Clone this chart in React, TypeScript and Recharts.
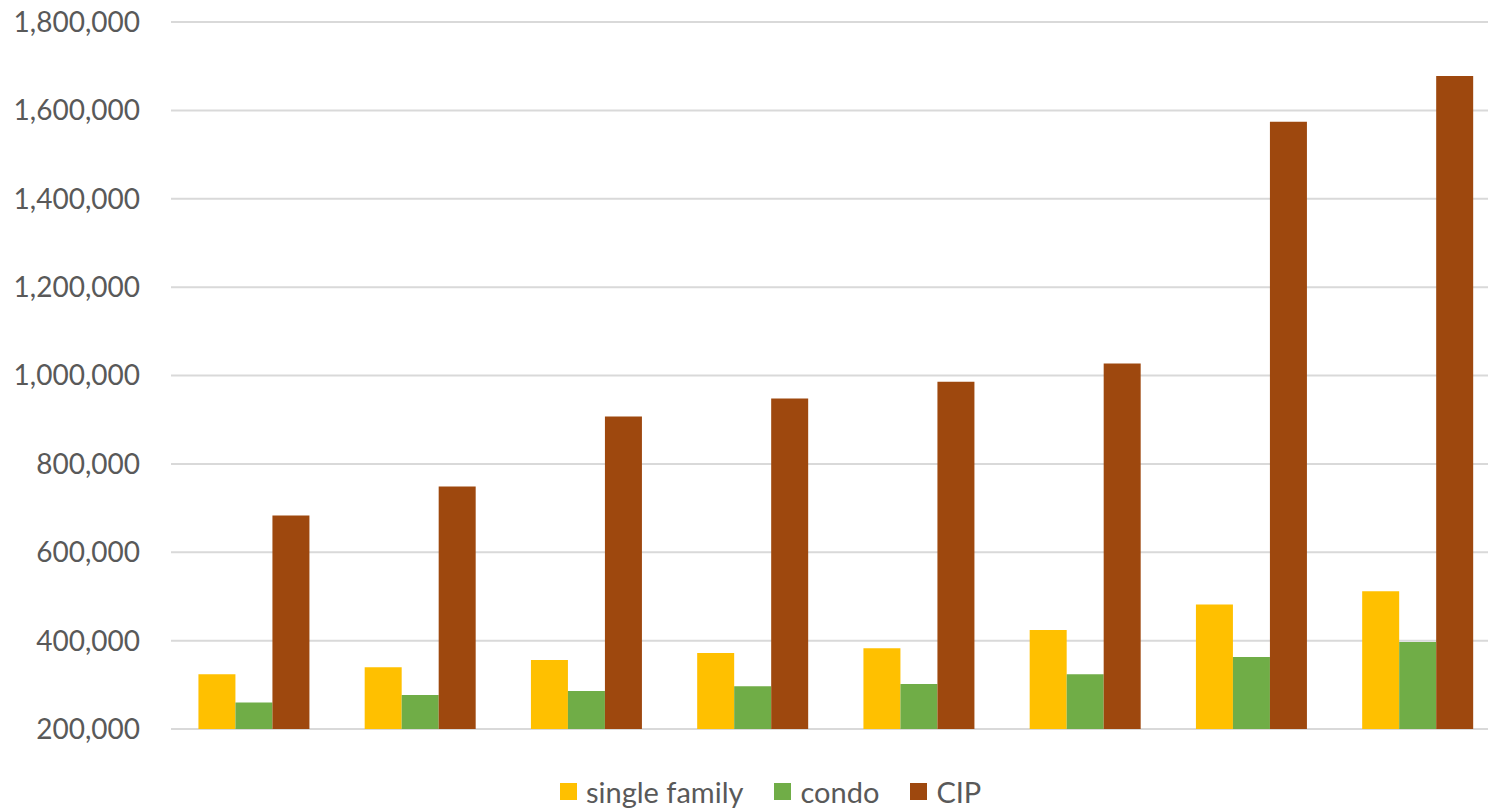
import React from "react";
import { BarChart, Bar, XAxis, YAxis, CartesianGrid, Legend } from "recharts";

const periods = ["1", "2", "3", "4", "5", "6", "7", "8"];
const singleFamily = [324000, 340000, 356000, 372000, 383000, 424000, 482000, 512000];
const condo = [260000, 277000, 286000, 297000, 302000, 324000, 363000, 397000];
const cip = [683000, 749000, 907000, 948000, 986000, 1027000, 1574000, 1678000];
const yTicks = [200000, 400000, 600000, 800000, 1000000, 1200000, 1400000, 1600000, 1800000];

const SERIES = [
  { key: "single", name: "single family", color: "#FFC000" },
  { key: "condo", name: "condo", color: "#70AD47" },
  { key: "cip", name: "CIP", color: "#9E480E" },
];

const data = periods.map((p, i) => ({
  period: p,
  single: singleFamily[i],
  condo: condo[i],
  cip: cip[i],
}));

const FONT = "Lato, 'Open Sans', sans-serif";
const TEXT = "#595959";

const fmt = (v: number) => v.toLocaleString("en-US");

// legend drawn as plain flex row, Excel style squares
const renderLegend = () => (
  <div style={{ display: "flex", alignItems: "center", fontFamily: FONT, fontSize: 29, color: TEXT }}>
    {SERIES.map((s, i) => (
      <div key={s.key} style={{ display: "flex", alignItems: "center", marginRight: i < SERIES.length - 1 ? 31 : 0 }}>
        <span style={{ display: "inline-block", width: 17, height: 17, background: s.color, marginRight: 9 }} />
        <span>{s.name}</span>
      </div>
    ))}
  </div>
);

export default function App() {
  return (
    <div style={{ position: "fixed", top: 0, left: 0, width: 1488, height: 808, overflow: "hidden", background: "#fff" }}>
      <BarChart
        width={1510}
        height={808}
        data={data}
        margin={{ top: 22, right: 9, bottom: 79, left: 0 }}
        barCategoryGap="16.5%"
        barGap={0}
      >
        <CartesianGrid vertical={false} stroke="#d9d9d9" strokeWidth={2} />
        <XAxis dataKey="period" hide />
        <YAxis
          domain={[200000, 1800000]}
          ticks={yTicks}
          width={171}
          axisLine={false}
          tickLine={false}
          tickSize={0}
          tickMargin={31}
          tickFormatter={fmt}
          tick={{ fill: TEXT, fontSize: 28, fontFamily: FONT }}
          allowDataOverflow
        />
        <Legend
          verticalAlign="middle"
          align="center"
          layout="horizontal"
          content={renderLegend}
          wrapperStyle={{ top: 774, left: 560, width: 600, height: 32 }}
        />
        {SERIES.map((s) => (
          <Bar key={s.key} dataKey={s.key} name={s.name} fill={s.color} isAnimationActive={false} />
        ))}
      </BarChart>
    </div>
  );
}
